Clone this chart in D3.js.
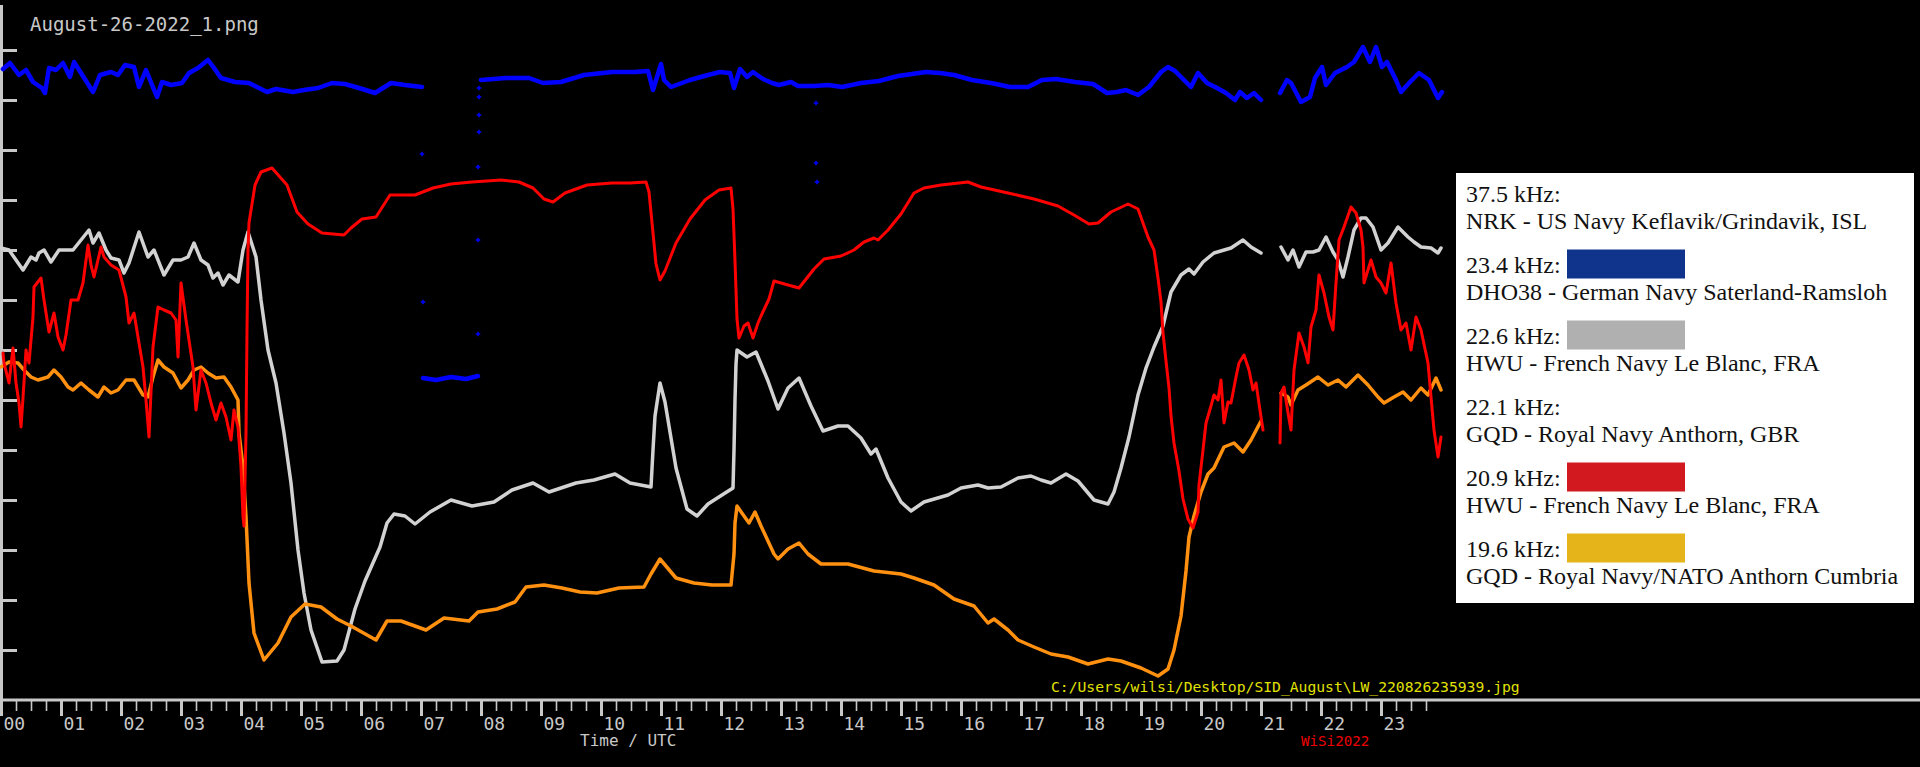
<!DOCTYPE html>
<html>
<head>
<meta charset="utf-8">
<script src="https://cdn.jsdelivr.net/npm/d3@7"></script>
<style>
  html, body { margin: 0; padding: 0; background: #000; overflow: hidden; }
  svg { display: block; }
  .idl { font-family: "DejaVu Sans Mono", monospace; }
  .legend text { font-family: "Liberation Serif", "Times New Roman", serif; font-size: 24px; fill: #111; }
</style>
</head>
<body>
<svg id="chart" width="1920" height="767"></svg>
<script>
// signal level, arbitrary units (one axis tick = 5); time in minutes after 00 UTC
// null marks a gap in the recording
const blueSeries = [
  [2,63.1],[9,63.7],[18,62.5],[25,63.0],[32,61.8],[41,61.2],[44,60.7],[48,63.2],[55,63.0],[62,63.7],
  [69,62.3],[73,63.8],[80,62.7],[92,60.8],[99,62.5],[110,62.8],[117,62.5],[124,63.5],[133,63.3],[138,61.3],
  [145,63.0],[156,60.3],[161,61.8],[170,61.5],[181,61.7],[188,62.7],[197,63.2],[207,64.0],[213,63.2],[220,62.2],
  [234,61.8],[248,61.7],[266,60.8],[275,61.1],[292,60.8],[303,61.0],[317,61.2],[331,61.7],[344,61.6],[358,61.2],
  [374,60.7],[390,61.7],[404,61.5],[421,61.3],[421.5,null],
  [422,32.2],[435,32.0],[450,32.3],[465,32.1],[477,32.4],[477.5,null],
  [480,62.0],[505,62.2],[528,62.2],[542,61.7],[560,61.8],[583,62.5],[611,62.8],[634,62.8],[647,62.9],[652,61.0],
  [660,63.6],[663,62.0],[670,61.3],[689,62.0],[707,62.5],[719,62.8],[729,62.7],[733,61.2],[739,63.1],[746,62.3],
  [752,62.8],[762,62.1],[771,61.7],[778,61.5],[790,61.8],[797,61.4],[813,61.4],[827,61.5],[841,61.3],[860,61.7],
  [878,61.9],[897,62.4],[911,62.6],[925,62.8],[939,62.7],[953,62.5],[971,62.0],[990,61.7],[1009,61.3],[1027,61.3],
  [1041,62.0],[1055,62.1],[1074,61.8],[1092,61.6],[1106,60.7],[1116,60.8],[1125,61.0],[1137,60.5],[1148,61.3],[1160,62.8],
  [1167,63.3],[1174,62.9],[1183,62.0],[1190,61.3],[1197,62.7],[1206,61.7],[1216,61.2],[1225,60.7],[1234,60.0],[1239,60.8],
  [1246,60.2],[1253,60.7],[1260,60.0],[1270,null],
  [1279,60.7],[1286,62.0],[1290,61.7],[1300,59.8],[1309,60.3],[1314,62.2],[1321,63.3],[1325,61.5],[1334,62.7],[1346,63.3],
  [1353,63.8],[1362,65.3],[1369,63.8],[1375,65.3],[1381,63.3],[1386,63.8],[1395,62.0],[1400,60.8],[1409,61.8],[1418,62.7],
  [1428,62.0],[1437,60.2],[1441,60.8]
];
const blueStray = [
  [421,54.6],[422,39.8],[477,53.3],[477,46.0],[477,36.6],[478,56.8],[478,58.5],[478,60.3],[478,61.2],
  [815,53.7],[816,51.8],[815,59.7]
];

const redSeries = [
  [2,34.7],[3,33.7],[8,31.7],[12,35.2],[15,31.7],[18,29.7],[20,27.3],[22,30.2],[25,35.0],[28,33.7],
  [32,38.3],[33,41.3],[40,42.2],[43,40.0],[48,36.8],[53,38.7],[57,36.3],[62,35.0],[65,36.5],[70,40.0],
  [77,40.0],[82,41.7],[87,45.5],[90,43.5],[93,42.3],[100,45.3],[103,44.3],[110,43.5],[118,43.0],[125,40.3],
  [128,37.7],[133,38.7],[137,36.3],[142,33.3],[145,30.0],[148,26.3],[152,35.3],[157,39.3],[163,39.0],[170,38.7],
  [175,38.0],[177,34.3],[180,41.7],[185,38.0],[192,33.3],[195,29.0],[200,33.0],[205,31.7],[210,29.7],[215,28.0],
  [220,29.7],[225,28.3],[230,26.0],[233,29.0],[237,27.3],[240,23.3],[242,18.3],[243,17.4],[245,26.7],[246,37.0],
  [247,45.0],[248,47.7],[254,51.5],[260,52.8],[271,53.2],[286,51.5],[296,48.8],[307,47.6],[321,46.7],[343,46.5],
  [350,47.2],[361,48.1],[375,48.3],[382,49.4],[389,50.5],[414,50.5],[432,51.2],[450,51.6],[471,51.8],[500,52.0],
  [518,51.8],[532,51.2],[543,50.1],[552,49.8],[564,50.7],[586,51.5],[611,51.7],[629,51.7],[645,51.8],[648,50.8],
  [652,46.7],[655,43.6],[659,42.0],[664,42.9],[675,45.7],[689,48.1],[704,50.0],[718,51.0],[730,51.2],[732,49.1],
  [734,43.9],[736,38.1],[738,36.2],[743,37.4],[747,37.7],[752,36.2],[757,37.7],[760,38.4],[768,40.1],[773,41.9],
  [787,41.5],[798,41.2],[813,43.1],[823,44.1],[840,44.4],[853,45.0],[863,45.8],[873,46.2],[877,46.0],[887,47.0],
  [900,48.6],[913,50.7],[923,51.2],[940,51.5],[967,51.8],[980,51.3],[1007,50.7],[1033,50.1],[1057,49.4],[1073,48.5],
  [1088,47.6],[1097,47.7],[1110,48.8],[1127,49.6],[1137,49.1],[1147,46.3],[1153,45.0],[1157,42.2],[1160,39.8],[1162,36.7],
  [1165,33.9],[1168,31.2],[1170,28.4],[1173,25.7],[1178,22.9],[1182,20.1],[1187,18.1],[1192,17.2],[1197,18.8],[1198,21.5],
  [1202,25.0],[1205,27.7],[1210,29.4],[1213,30.5],[1217,30.0],[1220,32.0],[1223,27.7],[1227,29.8],[1230,29.7],[1235,32.3],
  [1238,33.7],[1243,34.5],[1248,33.0],[1252,31.0],[1255,31.7],[1260,28.3],[1262,27.0],[1270,null],
  [1279,25.7],[1280,30.7],[1283,31.3],[1287,28.7],[1290,27.0],[1293,33.0],[1298,36.7],[1303,35.3],[1307,33.7],[1310,37.3],
  [1315,39.0],[1318,42.5],[1323,40.7],[1328,38.3],[1332,37.0],[1335,41.7],[1338,46.0],[1343,47.3],[1350,49.3],[1355,48.7],
  [1360,47.0],[1362,45.3],[1363,41.7],[1370,44.0],[1375,42.3],[1380,41.7],[1385,40.7],[1390,43.7],[1395,39.7],[1400,37.0],
  [1405,37.7],[1410,35.0],[1415,38.3],[1420,37.0],[1427,33.7],[1430,30.3],[1433,27.0],[1437,24.3],[1440,26.3]
];

const graySeries = [
  [0,45.2],[8,45.0],[15,44.0],[22,43.0],[30,44.3],[35,44.0],[38,44.7],[43,45.0],[50,43.8],[58,45.0],
  [67,45.0],[72,45.0],[80,46.0],[88,47.0],[92,45.7],[98,46.7],[105,45.0],[110,44.2],[118,44.0],[123,42.7],
  [128,43.7],[138,46.8],[147,44.3],[153,45.0],[163,42.5],[172,44.0],[180,44.0],[187,44.3],[193,45.7],[200,44.0],
  [207,43.5],[212,42.2],[217,42.7],[222,41.5],[228,42.5],[237,41.8],[242,45.0],[247,46.8],[255,44.3],[260,40.0],
  [267,35.0],[275,31.7],[283,26.7],[290,21.7],[297,15.0],[303,10.7],[310,7.0],[321,3.8],[336,3.9],[343,5.0],
  [354,9.1],[364,11.9],[379,15.3],[386,17.7],[393,18.6],[404,18.4],[414,17.6],[429,18.8],[450,20.0],[471,19.4],
  [493,19.8],[511,21.0],[532,21.7],[548,20.8],[575,21.7],[593,22.0],[614,22.6],[629,21.7],[650,21.3],[652,25.0],
  [654,28.4],[659,31.7],[664,29.8],[675,23.2],[686,19.1],[696,18.4],[707,19.6],[721,20.5],[732,21.2],[733,25.0],
  [734,30.0],[735,33.6],[736,35.0],[746,34.3],[755,34.8],[760,33.6],[767,31.9],[777,29.1],[787,31.2],[798,32.2],
  [810,29.4],[822,26.9],[837,27.4],[847,27.4],[860,26.2],[870,24.6],[875,25.1],[887,22.2],[900,19.8],[910,18.9],
  [923,19.8],[947,20.5],[960,21.2],[977,21.5],[987,21.2],[1000,21.3],[1017,22.2],[1030,22.4],[1040,22.0],[1050,21.7],
  [1065,22.6],[1077,21.9],[1093,20.0],[1107,19.6],[1113,20.8],[1120,23.2],[1128,26.3],[1137,30.5],[1145,33.2],[1153,35.3],
  [1162,37.4],[1170,40.8],[1180,42.5],[1188,43.1],[1193,42.6],[1202,43.8],[1213,44.7],[1230,45.2],[1242,46.0],[1250,45.3],
  [1260,44.7],[1270,null],
  [1280,45.3],[1287,44.0],[1292,45.0],[1298,43.3],[1305,44.8],[1312,44.8],[1318,45.0],[1325,46.3],[1332,44.8],[1337,44.0],
  [1342,42.3],[1347,44.3],[1353,47.0],[1360,48.2],[1365,48.2],[1372,47.3],[1380,45.0],[1387,45.7],[1397,47.3],[1407,46.3],
  [1413,45.8],[1420,45.3],[1430,45.2],[1437,44.7],[1440,45.2]
];

const orangeSeries = [
  [0,33.3],[8,33.8],[17,33.7],[23,33.0],[30,32.3],[37,32.0],[47,32.3],[53,33.0],[60,32.3],[67,31.3],
  [72,31.0],[80,31.7],[88,31.0],[97,30.3],[103,31.3],[110,30.7],[117,31.0],[125,32.0],[133,32.0],[142,30.5],
  [147,30.3],[152,32.3],[157,34.0],[163,33.3],[172,32.7],[180,31.2],[187,32.0],[193,33.0],[200,33.3],[207,32.7],
  [215,32.2],[223,32.3],[230,31.3],[237,30.0],[238,26.7],[242,23.3],[245,18.3],[248,11.7],[253,6.7],[263,4.0],
  [277,5.7],[290,8.3],[304,9.6],[320,9.3],[336,8.1],[350,7.4],[375,6.0],[386,7.9],[400,7.9],[425,7.0],
  [443,8.2],[468,7.9],[477,8.8],[496,9.1],[514,9.8],[525,11.3],[543,11.5],[561,11.2],[579,10.8],[596,10.7],
  [618,11.2],[643,11.3],[650,12.6],[659,14.1],[675,12.2],[693,11.7],[711,11.5],[730,11.5],[733,14.6],[734,17.7],
  [736,19.4],[743,18.4],[748,17.7],[754,18.8],[760,17.4],[773,14.6],[777,14.1],[787,15.1],[798,15.7],[807,14.6],
  [820,13.6],[847,13.6],[873,12.9],[900,12.6],[913,12.2],[933,11.5],[953,10.1],[973,9.4],[987,7.7],[993,8.1],
  [1007,7.0],[1017,6.0],[1033,5.3],[1050,4.6],[1067,4.3],[1087,3.6],[1107,4.1],[1120,3.9],[1140,3.2],[1157,2.4],
  [1167,3.1],[1173,5.0],[1180,8.4],[1185,12.9],[1188,16.3],[1193,18.4],[1200,20.8],[1207,22.6],[1213,23.2],[1223,25.3],
  [1233,25.7],[1242,24.8],[1250,26.0],[1260,27.9],[1270,null],
  [1280,30.7],[1287,30.3],[1290,29.5],[1297,31.0],[1305,31.5],[1317,32.3],[1327,31.5],[1337,32.0],[1345,31.3],[1357,32.5],
  [1367,31.5],[1377,30.3],[1383,29.7],[1393,30.3],[1402,30.8],[1410,30.0],[1420,31.2],[1427,30.5],[1435,32.2],[1440,31.0]
];

const hourTicks = d3.range(0, 1440, 60);
const hourLabels = hourTicks.map((m) => String(m / 60).padStart(2, "0"));
// 15 minute ticks; the one at 21:15 is missing in the original
const minorTicks = d3.range(0, 1440, 15).filter((m) => m % 60 !== 0 && m !== 1275);
const levelTicks = d3.range(5, 70, 5);

const legendFreqs = ["37.5 kHz:", "23.4 kHz:", "22.6 kHz:", "22.1 kHz:", "20.9 kHz:", "19.6 kHz:"];
const legendNames = [
  "NRK - US Navy Keflavik/Grindavik, ISL",
  "DHO38 - German Navy Saterland-Ramsloh",
  "HWU - French Navy Le Blanc, FRA",
  "GQD - Royal Navy Anthorn, GBR",
  "HWU - French Navy Le Blanc, FRA",
  "GQD - Royal Navy/NATO Anthorn Cumbria"
];
const legendSwatches = [null, "#10348c", "#b0b0b0", null, "#d2191f", "#e4b41a"];

const svg = d3.select("#chart");

const x = d3.scaleLinear().domain([0, 1440]).range([1, 1441]);
const y = d3.scaleLinear().domain([0, 70]).range([700, 0]);

const axisColor = "#c8c8c8";

// axes
svg.append("line")
  .attr("x1", 0).attr("x2", 1920)
  .attr("y1", 700).attr("y2", 700)
  .attr("stroke", axisColor).attr("stroke-width", 3);

svg.append("line")
  .attr("x1", 1.5).attr("x2", 1.5)
  .attr("y1", 5).attr("y2", 700)
  .attr("stroke", axisColor).attr("stroke-width", 3);

const gMinor = svg.append("g")
  .attr("transform", "translate(0,700)")
  .call(d3.axisBottom(x).tickValues(minorTicks).tickSize(11).tickFormat(""));
gMinor.select(".domain").remove();
gMinor.selectAll(".tick line").attr("stroke", axisColor).attr("stroke-width", 1.6);

const gMajor = svg.append("g")
  .attr("transform", "translate(0,700)")
  .call(d3.axisBottom(x).tickValues(hourTicks).tickSize(16)
    .tickFormat((d, i) => hourLabels[i]));
gMajor.select(".domain").remove();
gMajor.selectAll(".tick line").attr("stroke", axisColor).attr("stroke-width", 3);
gMajor.selectAll(".tick text")
  .attr("class", "idl")
  .attr("fill", axisColor)
  .attr("font-size", 18)
  .attr("text-anchor", "start")
  .attr("x", 2)
  .attr("y", 30)
  .attr("dy", null);

const gLeft = svg.append("g")
  .attr("transform", "translate(1,0)")
  .call(d3.axisRight(y).tickValues(levelTicks).tickSize(16).tickFormat(""));
gLeft.select(".domain").remove();
gLeft.selectAll(".tick line").attr("stroke", axisColor).attr("stroke-width", 3);

// texts
svg.append("text")
  .attr("class", "idl")
  .attr("x", 30).attr("y", 31)
  .attr("font-size", 19)
  .attr("fill", axisColor)
  .text("August-26-2022_1.png");

svg.append("text")
  .attr("class", "idl")
  .attr("x", 580).attr("y", 746)
  .attr("font-size", 16)
  .attr("fill", axisColor)
  .text("Time / UTC");

svg.append("text")
  .attr("class", "idl")
  .attr("x", 1301).attr("y", 746)
  .attr("font-size", 14.2)
  .attr("fill", "#ee0000")
  .text("WiSi2022");

svg.append("text")
  .attr("class", "idl")
  .attr("x", 1051).attr("y", 692)
  .attr("font-size", 14.7)
  .attr("fill", "#e2e200")
  .text("C:/Users/wilsi/Desktop/SID_August\\LW_220826235939.jpg");

// traces
const line = d3.line()
  .defined((d) => d[1] !== null)
  .x((d) => x(d[0]))
  .y((d) => y(d[1]));

function drawTrace(data, color, width) {
  svg.append("path")
    .datum(data)
    .attr("d", line)
    .attr("fill", "none")
    .attr("stroke", color)
    .attr("stroke-width", width)
    .attr("stroke-linejoin", "round")
    .attr("stroke-linecap", "round");
}

drawTrace(blueSeries, "#0000ff", 4.5);
drawTrace(graySeries, "#d2d2d2", 3.5);
drawTrace(orangeSeries, "#ff9010", 3.5);
drawTrace(redSeries, "#ff0000", 3);

const plus = d3.symbol().type(d3.symbolCross).size(12);
svg.append("g")
  .selectAll("path")
  .data(blueStray)
  .join("path")
  .attr("transform", (d) => "translate(" + x(d[0]) + "," + y(d[1]) + ")")
  .attr("d", plus)
  .attr("fill", "#0000ff");

// legend
const legend = svg.append("g").attr("class", "legend");
legend.append("rect")
  .attr("x", 1456).attr("y", 173)
  .attr("width", 458).attr("height", 430)
  .attr("fill", "#ffffff");

legendFreqs.forEach((f, i) => {
  const base = 201.5 + 71 * i;
  legend.append("text").attr("x", 1466).attr("y", base).text(f);
  legend.append("text").attr("x", 1466).attr("y", base + 27.5).text(legendNames[i]);
  if (legendSwatches[i]) {
    legend.append("rect")
      .attr("x", 1567).attr("y", base - 23)
      .attr("width", 118).attr("height", 29)
      .attr("fill", legendSwatches[i]);
  }
});
</script>
</body>
</html>
